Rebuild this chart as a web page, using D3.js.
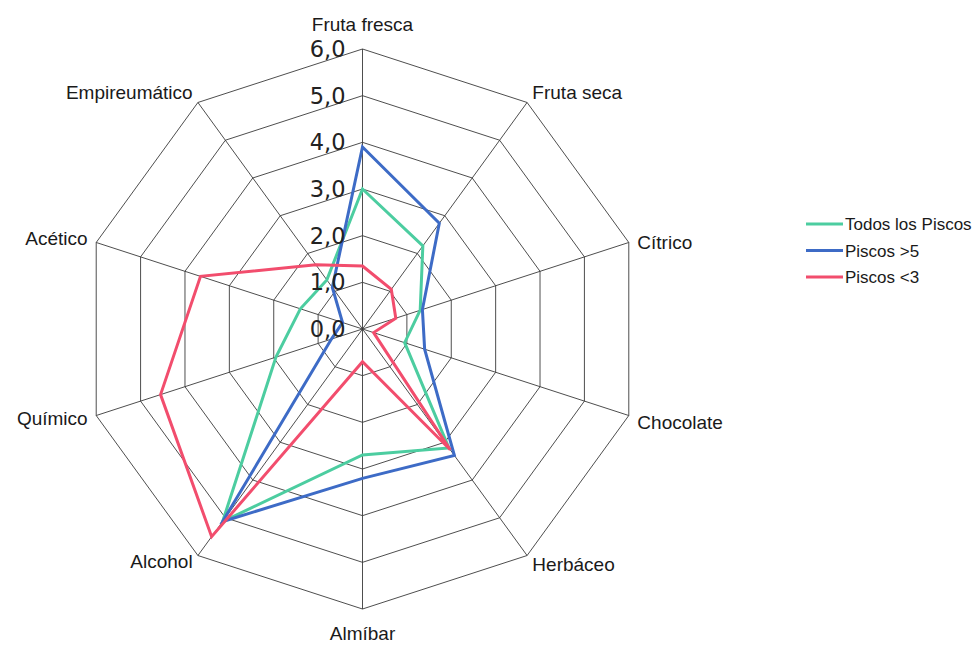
<!DOCTYPE html>
<html>
<head>
<meta charset="utf-8">
<script src="https://cdn.jsdelivr.net/npm/d3@7"></script>
<style>
  html, body { margin: 0; padding: 0; background: #ffffff; }
  svg { display: block; font-family: "Liberation Sans", Arial, sans-serif; }
</style>
</head>
<body>
<svg id="chart" width="976" height="645"></svg>
<script>
// ---- data ----
const categories = ["Fruta fresca", "Fruta seca", "Cítrico", "Chocolate", "Herbáceo",
                    "Almíbar", "Alcohol", "Químico", "Acético", "Empireumático"];
const todosLosPiscos = [3.0, 2.2, 1.3, 0.95, 3.15, 2.7, 5.1, 1.95, 1.4, 1.3];
const piscosMayor5   = [3.9, 2.8, 1.35, 1.4, 3.35, 3.2, 5.1, 0.7, 0.45, 1.1];
const piscosMenor3   = [1.35, 1.05, 0.75, 0.25, 3.2, 0.7, 5.5, 4.55, 3.65, 1.7];
const seriesNames = ["Todos los Piscos", "Piscos >5", "Piscos <3"];
const tickValues = [0, 1, 2, 3, 4, 5, 6];
const tickLabels = ["0,0", "1,0", "2,0", "3,0", "4,0", "5,0", "6,0"];

// ---- layout ----
const svg = d3.select("#chart");
const cx = 362.5, cy = 329;
const R = 280;
const colors = ["#4ccda0", "#3d6bc6", "#f24d6d"];
const series = [todosLosPiscos, piscosMayor5, piscosMenor3];

const r = d3.scaleLinear().domain([0, 6]).range([0, R]);
const angle = d3.scaleLinear().domain([0, categories.length]).range([0, 2 * Math.PI]);

const g = svg.append("g").attr("transform", `translate(${cx},${cy})`);

const px = (i, v) => r(v) * Math.sin(angle(i));
const py = (i, v) => -r(v) * Math.cos(angle(i));

// grid rings
const ringLine = d3.lineRadial()
  .angle((d, i) => angle(i))
  .radius(d => r(d))
  .curve(d3.curveLinearClosed);

tickValues.filter(t => t > 0).forEach(t => {
  g.append("path")
    .attr("d", ringLine(categories.map(() => t)))
    .attr("fill", "none")
    .attr("stroke", "#3a3a3a")
    .attr("stroke-width", 0.9);
});

// spokes
categories.forEach((c, i) => {
  g.append("line")
    .attr("x1", 0).attr("y1", 0)
    .attr("x2", px(i, 6)).attr("y2", py(i, 6))
    .attr("stroke", "#3a3a3a")
    .attr("stroke-width", 0.9);
});

// series lines
const seriesLine = d3.lineRadial()
  .angle((d, i) => angle(i))
  .radius(d => r(d))
  .curve(d3.curveLinearClosed);

series.forEach((s, k) => {
  g.append("path")
    .attr("d", seriesLine(s))
    .attr("fill", "none")
    .attr("stroke", colors[k])
    .attr("stroke-width", 3)
    .attr("stroke-linejoin", "miter");
});

// tick labels
tickValues.forEach((t, i) => {
  g.append("text")
    .attr("x", -17)
    .attr("y", -r(t) + 8)
    .attr("text-anchor", "end")
    .attr("font-family", "'DejaVu Sans', sans-serif")
    .attr("font-size", 22.5)
    .attr("fill", "#222")
    .text(tickLabels[i]);
});

// category labels
categories.forEach((c, i) => {
  const a = angle(i);
  const s = Math.sin(a), co = Math.cos(a);
  let x = (R + 9) * s, y = -(R + 9) * co;
  let anchor = "middle";
  if (s > 0.1) anchor = "start";
  else if (s < -0.1) anchor = "end";
  let dy;
  if (co > 0.9) dy = -9;          // top
  else if (co < -0.9) dy = 22;    // bottom
  else dy = 6 + (-co) * 3;
  if (s > 0.9) dy += 4;           // right-side labels sit slightly lower
  if (s < -0.5 && co < -0.5) dy -= 3;
  g.append("text")
    .attr("x", x)
    .attr("y", y + dy)
    .attr("text-anchor", anchor)
    .attr("font-size", 19)
    .attr("fill", "#1a1a1a")
    .text(c);
});

// legend
const legend = svg.append("g").attr("transform", "translate(806,224)");
seriesNames.forEach((n, k) => {
  const row = legend.append("g").attr("transform", `translate(0,${k * 26.5})`);
  row.append("line")
    .attr("x1", 0).attr("x2", 37)
    .attr("y1", 0).attr("y2", 0)
    .attr("stroke", colors[k])
    .attr("stroke-width", 3);
  row.append("text")
    .attr("x", 39)
    .attr("y", 6)
    .attr("font-size", 17)
    .attr("fill", "#1a1a1a")
    .text(n);
});
</script>
</body>
</html>
